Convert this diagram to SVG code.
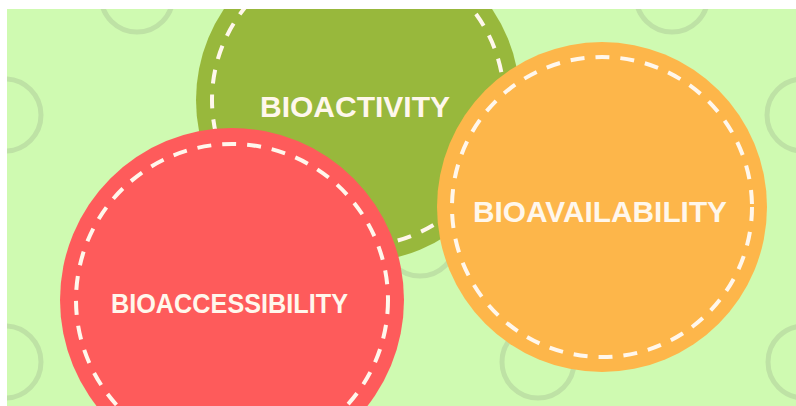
<svg xmlns="http://www.w3.org/2000/svg" width="796" height="406" viewBox="0 0 796 406">
  <style>
    .ring { fill: none; stroke: #bee2a5; stroke-width: 5; }
    .disc-dash { fill: none; stroke: #fff7ec; stroke-width: 4; stroke-dasharray: 14 11; }
    .label { font-family: "Liberation Sans", Arial, sans-serif; font-weight: bold; fill: #fff7ec; text-anchor: middle; }
  </style>
  <defs>
    <clipPath id="frame">
      <rect x="7" y="9" width="789" height="397"/>
    </clipPath>
  </defs>
  <rect x="0" y="0" width="796" height="406" fill="#ffffff"/>
  <g clip-path="url(#frame)">
    <!-- backdrop with ring pattern -->
    <rect x="7" y="9" width="789" height="397" fill="#cffab1"/>
    <g id="pattern">
      <circle class="ring" cx="137" cy="-4" r="36"/>
      <circle class="ring" cx="672" cy="-4" r="36"/>
      <circle class="ring" cx="5" cy="115" r="36"/>
      <circle class="ring" cx="803" cy="115" r="36"/>
      <circle class="ring" cx="420" cy="240" r="36"/>
      <circle class="ring" cx="5" cy="362" r="36"/>
      <circle class="ring" cx="538" cy="362" r="36"/>
      <circle class="ring" cx="804" cy="362" r="36"/>
    </g>

    <g id="bioactivity">
      <circle cx="358" cy="100" r="162" fill="#98b83c"/>
      <circle class="disc-dash" cx="358" cy="100" r="146"/>
      <text class="label" x="355" y="117" font-size="30" textLength="190" lengthAdjust="spacingAndGlyphs">BIOACTIVITY</text>
    </g>

    <g id="bioaccessibility">
      <circle cx="232" cy="300" r="172" fill="#fe5b5b"/>
      <circle class="disc-dash" cx="232" cy="300" r="156"/>
      <text class="label" x="229.5" y="313" font-size="28" textLength="237" lengthAdjust="spacingAndGlyphs">BIOACCESSIBILITY</text>
    </g>

    <g id="bioavailability">
      <circle cx="602" cy="207" r="165" fill="#fdb64a"/>
      <circle class="disc-dash" cx="602" cy="207" r="150"/>
      <text class="label" x="600" y="222" font-size="30" textLength="254" lengthAdjust="spacingAndGlyphs">BIOAVAILABILITY</text>
    </g>

    <g id="connectors"/>
  </g>
</svg>
